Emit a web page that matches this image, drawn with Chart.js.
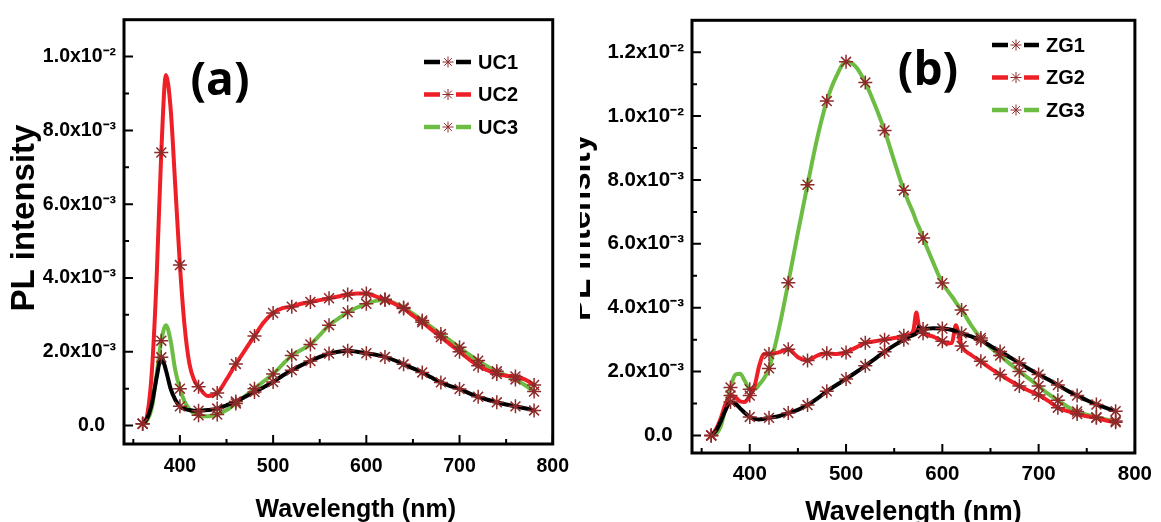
<!DOCTYPE html>
<html>
<head>
<meta charset="utf-8">
<script src="https://cdn.jsdelivr.net/npm/chart.js@4.4.1/dist/chart.umd.min.js"></script>
<style>
  html, body { margin: 0; padding: 0; background: #fff; }
  #wrap { position: relative; width: 1161px; height: 522px; overflow: hidden; background: #fff; }
  #pa { position: absolute; left: 0; top: 0; width: 580px; height: 522px; }
  #pb-clip { position: absolute; left: 580px; top: 0; width: 581px; height: 522px; overflow: hidden; }
  #pb { position: absolute; left: -20px; top: 0; width: 601px; height: 522px; }
</style>
</head>
<body>
<div id="wrap">
  <div id="pa"><canvas id="chart-a"></canvas></div>
  <div id="pb-clip"><div id="pb"><canvas id="chart-b"></canvas></div></div>
</div>
<script>
// PL intensity in units of 1e-3
const wlA = [360, 365, 370, 375, 380, 385, 390, 395, 400, 405, 410, 415, 420,
  430, 440, 450, 460, 470, 480, 490, 500, 510, 520, 530, 540, 550, 560, 570, 580, 590, 600,
  610, 620, 630, 640, 650, 660, 670, 680, 690, 700, 710, 720, 730, 740, 750, 760, 770, 780];
const uc1 = [0.05, 0.2, 0.6, 1.3, 1.85, 1.5, 1.0, 0.7, 0.52, 0.45, 0.42, 0.4, 0.4,
  0.42, 0.46, 0.55, 0.65, 0.78, 0.91, 1.04, 1.18, 1.35, 1.5, 1.63, 1.75, 1.86, 1.95, 2.0, 2.03, 2.0, 1.96,
  1.92, 1.86, 1.77, 1.66, 1.55, 1.44, 1.3, 1.17, 1.07, 0.99, 0.88, 0.78, 0.7, 0.63, 0.57, 0.52, 0.47, 0.41];
const uc2 = [0.05, 0.3, 1.5, 4.0, 7.4, 9.5, 8.6, 6.5, 4.35, 2.7, 1.7, 1.25, 1.05,
  0.8, 0.88, 1.25, 1.67, 2.05, 2.43, 2.8, 3.05, 3.18, 3.22, 3.3, 3.35, 3.4, 3.45, 3.5, 3.55, 3.58, 3.58,
  3.5, 3.42, 3.3, 3.17, 2.98, 2.8, 2.6, 2.4, 2.2, 2.0, 1.8, 1.62, 1.5, 1.4, 1.35, 1.33, 1.25, 1.1];
const uc3 = [0.05, 0.15, 0.5, 1.4, 2.3, 2.72, 2.3, 1.5, 1.0, 0.65, 0.45, 0.33, 0.28,
  0.25, 0.3, 0.42, 0.6, 0.8, 1.0, 1.2, 1.4, 1.65, 1.9, 2.05, 2.2, 2.45, 2.72, 2.9, 3.07, 3.2, 3.3,
  3.38, 3.4, 3.32, 3.2, 3.03, 2.85, 2.67, 2.48, 2.3, 2.12, 1.93, 1.76, 1.6, 1.47, 1.36, 1.25, 1.1, 0.92];

const wlB = [360, 365, 370, 375, 380, 385, 390, 395, 400, 405, 410, 415, 420,
  430, 440, 450, 460, 470, 480, 490, 500, 510, 520, 530, 540, 550, 560, 565, 570, 573, 576,
  580, 590, 600, 605, 610, 614, 618, 620, 630,
  640, 650, 660, 670, 680, 690, 700, 710, 720, 730, 740, 750, 760, 770, 780];
const zg1 = [0.0, 0.15, 0.45, 0.8, 1.05, 1.0, 0.85, 0.7, 0.58, 0.52, 0.5, 0.52, 0.55,
  0.6, 0.7, 0.8, 0.95, 1.15, 1.38, 1.58, 1.77, 1.97, 2.18, 2.4, 2.62, 2.82, 3.0, 3.08, 3.15, 3.2, 3.4,
  3.33, 3.36, 3.35, 3.33, 3.3, 3.26, 3.22, 3.2, 3.1,
  2.98, 2.8, 2.63, 2.45, 2.27, 2.08, 1.91, 1.75, 1.58, 1.4, 1.25, 1.1, 0.97, 0.86, 0.76];
const zg2 = [0.0, 0.2, 0.55, 1.0, 1.25, 1.2, 1.07, 1.05, 1.25, 1.55, 2.2, 2.55, 2.55,
  2.6, 2.7, 2.45, 2.35, 2.5, 2.57, 2.55, 2.6, 2.75, 2.9, 2.95, 3.0, 3.05, 3.12, 3.15, 3.3, 3.85, 3.35,
  3.2, 3.1, 2.95, 2.88, 2.9, 3.45, 3.0, 2.8, 2.52,
  2.32, 2.1, 1.91, 1.72, 1.55, 1.4, 1.27, 1.08, 0.87, 0.76, 0.67, 0.6, 0.55, 0.47, 0.41];
const zg3 = [0.0, 0.05, 0.3, 0.9, 1.5, 1.9, 1.93, 1.7, 1.45, 1.45, 1.6, 1.8, 2.1,
  3.3, 4.78, 6.35, 7.85, 9.3, 10.47, 11.25, 11.7, 11.55, 11.05, 10.35, 9.55, 8.6, 7.68, 7.3, 6.95, 6.7, 6.5,
  6.18, 5.45, 4.77, 4.55, 4.35, 4.17, 4.0, 3.93, 3.45,
  3.05, 2.75, 2.5, 2.25, 2.0, 1.78, 1.55, 1.3, 1.1, 0.9, 0.75, 0.65, 0.57, 0.5, 0.45];

const namesA = ['UC1', 'UC2', 'UC3'];
const namesB = ['ZG1', 'ZG2', 'ZG3'];

const xMajor = [400, 500, 600, 700, 800];
const xMinor = [350, 450, 550, 650, 750];
const xLabels = ['400', '500', '600', '700', '800'];
const yMajorA = [0, 2, 4, 6, 8, 10];
const yMinorA = [1, 3, 5, 7, 9];
const yLabelsA = ['0.0  ', '2.0x10⁻³', '4.0x10⁻³', '6.0x10⁻³', '8.0x10⁻³', '1.0x10⁻²'];
const yMajorB = [0, 2, 4, 6, 8, 10, 12];
const yMinorB = [1, 3, 5, 7, 9, 11];
const yLabelsB = ['0.0  ', '2.0x10⁻³', '4.0x10⁻³', '6.0x10⁻³', '8.0x10⁻³', '1.0x10⁻²', '1.2x10⁻²'];

const COLORS = ['#000000', '#ee1f26', '#6dbd45'];
const MARKER = '#8e2a2a';
const SANS = "'Liberation Sans', Arial, sans-serif";

function drawStar(ctx, x, y, r) {
  ctx.beginPath();
  for (let k = 0; k < 4; k++) {
    const a = k * Math.PI / 4;
    ctx.moveTo(x - r * Math.cos(a), y - r * Math.sin(a));
    ctx.lineTo(x + r * Math.cos(a), y + r * Math.sin(a));
  }
  ctx.stroke();
}

// box frame + inward ticks
const framePlugin = {
  id: 'frame',
  afterDatasetsDraw(chart) {
    const { ctx, chartArea: a, scales: { x, y } } = chart;
    const yMajor = chart.options.plugins.decor.yMajor;
    ctx.save();
    ctx.strokeStyle = '#000';
    ctx.lineWidth = 2;
    ctx.beginPath();
    x.ticks.forEach(t => {
      const px = x.getPixelForValue(t.value);
      const len = xMajor.includes(t.value) ? 9 : 5;
      ctx.moveTo(px, a.bottom); ctx.lineTo(px, a.bottom - len);
    });
    y.ticks.forEach(t => {
      const py = y.getPixelForValue(t.value);
      const len = yMajor.includes(t.value) ? 9 : 5;
      ctx.moveTo(a.left, py); ctx.lineTo(a.left + len, py);
    });
    ctx.stroke();
    ctx.lineWidth = 3;
    ctx.strokeRect(a.left, a.top, a.right - a.left, a.bottom - a.top);
    ctx.restore();
  }
};

// panel letter and legend
const decorPlugin = {
  id: 'decor',
  afterDraw(chart, args, o) {
    const ctx = chart.ctx;
    ctx.save();
    ctx.fillStyle = '#000';
    ctx.font = "bold 46px 'Open Sans', sans-serif";
    ctx.textAlign = 'center';
    ctx.textBaseline = 'alphabetic';
    ctx.fillText(o.letter, o.letterX, o.letterY);

    ctx.font = `bold 20px ${SANS}`;
    ctx.textAlign = 'left';
    ctx.textBaseline = 'middle';
    o.names.forEach((name, i) => {
      const lx = o.legendX, ly = o.legendY + i * o.legendDy;
      ctx.strokeStyle = COLORS[i];
      ctx.lineWidth = 4.5;
      ctx.beginPath();
      ctx.moveTo(lx, ly); ctx.lineTo(lx + 16, ly);
      ctx.moveTo(lx + 32, ly); ctx.lineTo(lx + 47, ly);
      ctx.stroke();
      ctx.strokeStyle = MARKER;
      ctx.lineWidth = 1;
      drawStar(ctx, lx + 24, ly, 5.5);
      ctx.fillText(name, lx + 54, ly + 1);
    });
    ctx.restore();
  }
};

function lineSet(label, wl, vals, color) {
  return {
    label,
    data: wl.map((w, i) => ({ x: w, y: vals[i] })),
    borderColor: color,
    borderWidth: 4,
    pointRadius: 0,
    cubicInterpolationMode: 'monotone',
    order: 2
  };
}

function markerSet(label, wl, vals) {
  return {
    label: label + ' markers',
    data: wl.map((w, i) => ({ x: w, y: vals[i] })).filter(p => p.x % 20 === 0),
    showLine: false,
    pointStyle: 'star',
    pointRadius: 7,
    pointBorderWidth: 1.5,
    pointBorderColor: MARKER,
    pointBackgroundColor: MARKER,
    order: 1
  };
}

function makePanel(id, cfg) {
  const datasets = [];
  cfg.series.forEach((s, i) => datasets.push(lineSet(cfg.names[i], cfg.wl, s, COLORS[i])));
  cfg.series.forEach((s, i) => datasets.push(markerSet(cfg.names[i], cfg.wl, s)));

  return new Chart(document.getElementById(id), {
    type: 'line',
    data: { datasets },
    plugins: [framePlugin, decorPlugin],
    options: {
      responsive: true,
      maintainAspectRatio: false,
      animation: false,
      events: [],
      layout: { padding: { top: cfg.padTop, right: cfg.padRight, left: 0, bottom: 0 } },
      plugins: {
        legend: { display: false },
        tooltip: { enabled: false },
        decor: {
          letter: cfg.letter, letterX: cfg.letterX, letterY: cfg.letterY,
          names: cfg.names, legendX: cfg.legendX, legendY: cfg.legendY, legendDy: cfg.legendDy,
          yMajor: cfg.yMajor
        }
      },
      scales: {
        x: {
          type: 'linear',
          min: 340, max: 800,
          afterBuildTicks: s => { s.ticks = xMinor.concat(xMajor).sort((a, b) => a - b).map(v => ({ value: v })); },
          afterFit: s => { s.height = cfg.xHeight; },
          grid: { display: false, drawTicks: false },
          border: { display: false },
          ticks: {
            autoSkip: false, maxRotation: 0, padding: cfg.xTickPad, color: '#000',
            font: { family: SANS, size: cfg.tickSize, weight: 'bold' },
            callback: v => { const k = xMajor.indexOf(v); return k < 0 ? '' : xLabels[k]; }
          },
          title: {
            display: true, text: cfg.xTitle, color: '#000',
            font: { family: SANS, size: cfg.xTitleSize, weight: 'bold', lineHeight: 1 },
            padding: { top: 0, bottom: cfg.xTitlePad }
          }
        },
        y: {
          type: 'linear',
          min: cfg.yMin, max: cfg.yMax,
          afterBuildTicks: s => { s.ticks = cfg.yMinor.concat(cfg.yMajor).sort((a, b) => a - b).map(v => ({ value: v })); },
          afterFit: s => { s.width = cfg.yWidth; },
          grid: { display: false, drawTicks: false },
          border: { display: false },
          ticks: {
            autoSkip: false, padding: 8, color: '#000',
            font: { family: SANS, size: cfg.tickSize, weight: 'bold' },
            callback: v => { const k = cfg.yMajor.indexOf(v); return k < 0 ? '' : cfg.yLabels[k]; }
          },
          title: {
            display: true, text: cfg.yTitle, color: '#000',
            font: { family: SANS, size: 33, weight: 'bold' },
            padding: { top: cfg.yTitlePad, bottom: 0 }
          }
        }
      }
    }
  });
}

makePanel('chart-a', {
  wl: wlA, series: [uc1, uc2, uc3], names: namesA,
  yMin: -0.5, yMax: 11, yMajor: yMajorA, yMinor: yMinorA, yLabels: yLabelsA,
  padTop: 15, padRight: 25, yWidth: 124, xHeight: 78, xTickPad: 11, tickSize: 19.5,
  xTitle: '     Wavelength (nm)', xTitleSize: 25, xTitlePad: -1,
  yTitle: '   PL intensity', yTitlePad: 5,
  letter: '(a)', letterX: 220, letterY: 95,
  legendX: 424, legendY: 62, legendDy: 32.5
});

makePanel('chart-b', {
  wl: wlB, series: [zg1, zg2, zg3], names: namesB,
  yMin: -0.55, yMax: 13, yMajor: yMajorB, yMinor: yMinorB, yLabels: yLabelsB,
  padTop: 15, padRight: 22, yWidth: 132, xHeight: 69, xTickPad: 9, tickSize: 20.5,
  xTitle: 'Wavelength (nm)', xTitleSize: 27, xTitlePad: -4,
  yTitle: '  PL intensity', yTitlePad: 1,
  letter: '(b)', letterX: 368, letterY: 85,
  legendX: 432, legendY: 45, legendDy: 32.5
});
</script>
</body>
</html>
